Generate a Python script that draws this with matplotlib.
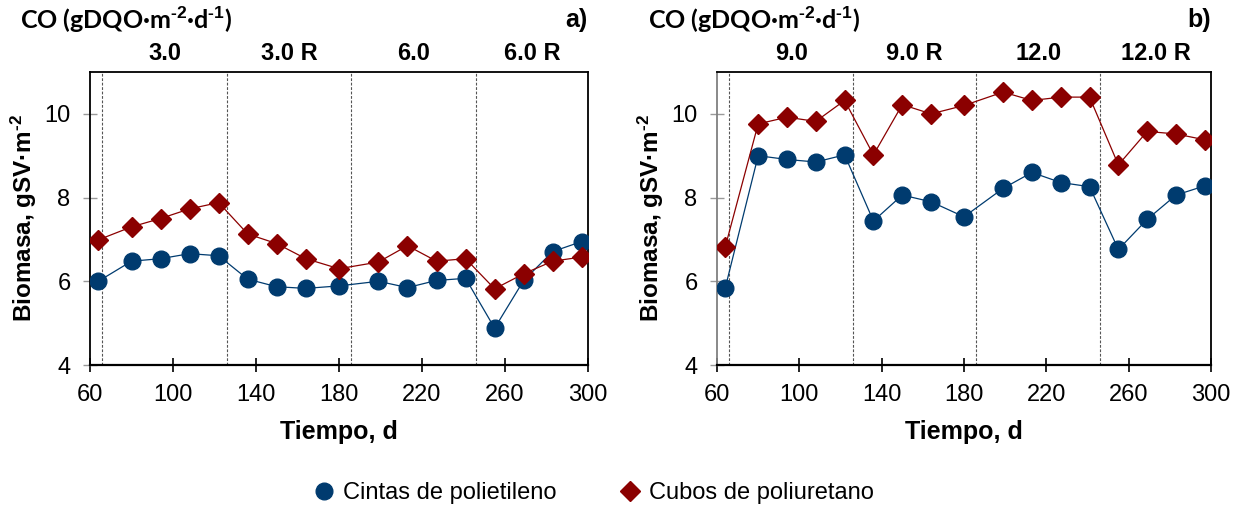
import matplotlib
matplotlib.use("Agg")
import matplotlib.pyplot as plt
from matplotlib.lines import Line2D

plt.rcParams["font.family"] = ["Liberation Sans", "DejaVu Sans"]
plt.rcParams["mathtext.fontset"] = "custom"
plt.rcParams["mathtext.rm"] = "Liberation Sans:bold"
plt.rcParams["mathtext.default"] = "rm"

# ---- Data ------------------------------------------------------------------
dias = [64, 80, 94, 108, 122, 136, 150, 164, 180, 199, 213, 227, 241,
        255, 269, 283, 297]

# panel a) OLR 3.0 / 6.0
cintas_a = [6.00, 6.48, 6.54, 6.66, 6.61, 6.05, 5.87, 5.83, 5.89, 6.00,
            5.85, 6.02, 6.07, 4.88, 6.02, 6.71, 6.95]
cubos_a = [6.99, 7.30, 7.50, 7.73, 7.88, 7.13, 6.90, 6.54, 6.30, 6.46,
           6.85, 6.48, 6.54, 5.82, 6.18, 6.48, 6.58]

# panel b) OLR 9.0 / 12.0
cintas_b = [5.84, 9.00, 8.91, 8.85, 9.02, 7.44, 8.06, 7.90, 7.54, 8.22,
            8.60, 8.36, 8.26, 6.76, 7.48, 8.06, 8.28]
cubos_b = [6.82, 9.76, 9.92, 9.82, 10.32, 9.02, 10.22, 10.00, 10.20, 10.52,
           10.32, 10.40, 10.40, 8.78, 9.58, 9.52, 9.38]

cambios = [66, 126, 186, 246]
etapas_a = ["3.0", "3.0 R", "6.0", "6.0 R"]
etapas_b = ["9.0", "9.0 R", "12.0", "12.0 R"]

AZUL = "#003b6f"
ROJO = "#8b0000"

# short hyphen for the exponents (mathtext turns "-" into a long minus)
GUION = "\u2010"

fig = plt.figure(figsize=(12.42, 5.07), dpi=100)
ax_a = fig.add_axes([90 / 1242, 1 - 365 / 507, 498 / 1242, 293 / 507])
ax_b = fig.add_axes([717 / 1242, 1 - 365 / 507, 494 / 1242, 293 / 507])


def panel(ax, cintas, cubos, etapas, letra, spine_izq):
    ax.set_xlim(60, 300)
    ax.set_ylim(4, 11)
    ax.set_xticks(range(60, 301, 40))
    ax.set_yticks([4, 6, 8, 10])

    for x in cambios:
        ax.axvline(x, color="#555555", lw=0.8, ls=(0, (2.5, 1.5)), zorder=1)

    ax.plot(dias, cintas, color=AZUL, lw=0.9, marker="o", ms=12,
            mec=AZUL, mfc=AZUL, zorder=3)
    ax.plot(dias, cubos, color=ROJO, lw=0.9, marker="D", ms=10,
            mec=ROJO, mfc=ROJO, zorder=4)

    # stage labels centred between the change lines
    bordes = cambios + [300]
    for i, txt in enumerate(etapas):
        xc = (bordes[i] + bordes[i + 1]) / 2
        ax.text(xc, 1.025, txt, transform=ax.get_xaxis_transform(),
                ha="center", va="bottom", fontsize=17, fontweight="bold")

    for s in ["top", "right", "bottom"]:
        ax.spines[s].set_color("black")
    ax.spines["bottom"].set_linewidth(1.6)
    ax.spines["top"].set_linewidth(1.3)
    ax.spines["right"].set_linewidth(1.3)
    ax.spines["left"].set_color(spine_izq)
    ax.spines["left"].set_linewidth(1.3)

    ax.tick_params(axis="x", direction="inout", length=10, width=1.2,
                   labelsize=17, pad=9, colors="black")
    ax.tick_params(axis="y", direction="inout", length=10, width=1.0,
                   color="#999999", labelsize=17, pad=9, labelcolor="black")

    ax.set_xlabel("Tiempo, d", fontsize=18, fontweight="bold", labelpad=10)
    ax.set_ylabel("Biomasa, gSV·m$^{" + GUION + "2}$", fontsize=17.5,
                  fontweight="bold", labelpad=4)

    ax.text(1.0, 1.0 + 52 / 293, letra, transform=ax.transAxes,
            ha="right", va="center", fontsize=18, fontweight="bold")


panel(ax_a, cintas_a, cubos_a, etapas_a, "a)", "black")
panel(ax_b, cintas_b, cubos_b, etapas_b, "b)", "#808080")

for x0 in [20, 648]:
    fig.text(x0 / 1242, 1 - 20 / 507,
             "CO (gDQO·m$^{" + GUION + "2}$·d$^{" + GUION + "1}$)",
             ha="left", va="center", fontsize=18, fontweight="bold",
             family=["Lato", "DejaVu Sans"])

handles = [
    Line2D([], [], ls="none", marker="o", ms=12, color=AZUL),
    Line2D([], [], ls="none", marker="D", ms=10, color=ROJO),
]
fig.legend(handles, ["Cintas de polietileno", "Cubos de poliuretano"],
           loc="center", bbox_to_anchor=(592 / 1242, 1 - 493 / 507), ncol=2,
           frameon=False, fontsize=17, handletextpad=0.2, columnspacing=2.5,
           handlelength=1.2)

fig.savefig("out.png", dpi=100)
